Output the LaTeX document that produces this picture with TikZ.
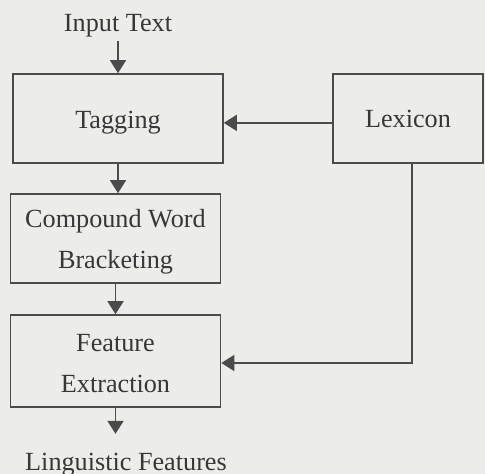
\documentclass[tikz,border=0pt]{standalone}
\usepackage{fontspec}
\setmainfont{Liberation Serif}
\usetikzlibrary{arrows.meta}
\definecolor{paper}{RGB}{236,236,234}
\definecolor{ink}{RGB}{75,75,75}
\definecolor{textink}{RGB}{55,55,55}
\tikzset{every path/.style={ink, line width=0.8pt}, every node/.style={text=textink, font=\fontsize{13.1}{16}\selectfont},
  stage/.style={draw, minimum width=105pt, minimum height=44.5pt, align=center, inner sep=2pt},
  flow/.style={-{Triangle[length=6.5pt,width=8pt]}}}

\begin{document}
\begin{tikzpicture}[x=0.5pt,y=-0.5pt]
   \fill[paper] (0,0) rectangle (485,474);
   \useasboundingbox (0,0) rectangle (485,474);
   \node[anchor=base, inner sep=1.5pt] (input) at (118,32) {Input Text};
   \node[stage] (tag) at (118,118.5) {\rule{0pt}{13pt}Tagging};
   \node[stage, minimum width=75pt] (lex) at (408,118.5) {Lexicon};
   \node[stage] (cwb) at (115.5,238.5) {\rule{0pt}{12.5pt}Compound Word\\[4.5pt]Bracketing};
   \node[stage, minimum height=46pt] (fext) at (115.5,361) {\rule{0pt}{11.5pt}Feature\\[4.5pt]Extraction};
   \node[anchor=base, inner sep=9pt] (ling) at (126,470) {Linguistic Features};
   \draw[flow] (input.south) -- (input.south |- tag.north);
   \draw[flow] (tag.south) -- (tag.south |- cwb.north);
   \draw[flow] (cwb) -- (fext);
   \draw[flow] (fext.south) -- (fext.south |- ling.north);
   \draw[flow] ([yshift=-2.2pt]lex.west) -- ([yshift=-2.2pt]tag.east);
   \draw[flow] ([xshift=2pt]lex.south) |- ([yshift=-1pt]fext.east);
\end{tikzpicture}
\end{document}
